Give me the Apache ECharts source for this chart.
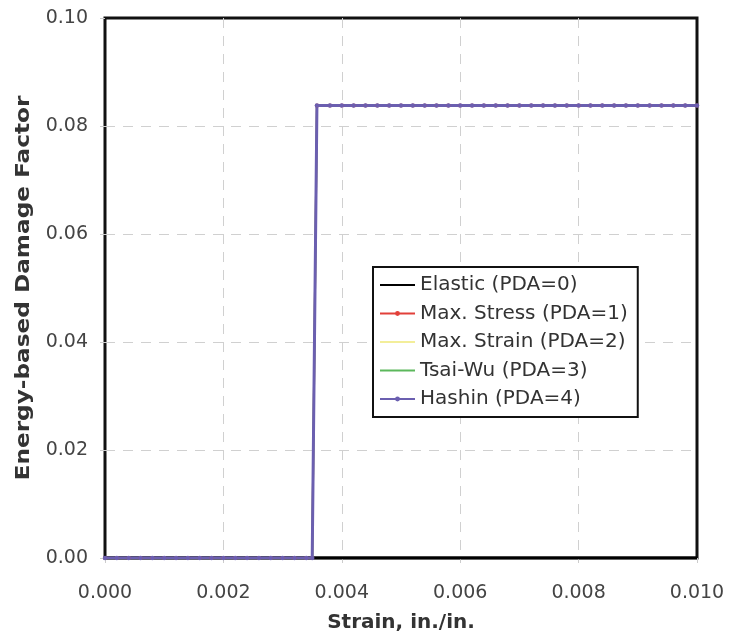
<!DOCTYPE html>
<html>
<head>
<meta charset="utf-8">
<script src="https://cdn.jsdelivr.net/npm/echarts@6/dist/echarts.min.js"></script>
<style>
  html, body { margin: 0; padding: 0; background: #fff; }
  #main { width: 730px; height: 638px; }
</style>
</head>
<body>
<div id="main"></div>
<script>
// 应变 (in./in.)
var strain = [0, 0.0002, 0.0004, 0.0006, 0.0008, 0.0010, 0.0012, 0.0014, 0.0016, 0.0018,
  0.0020, 0.0022, 0.0024, 0.0026, 0.0028, 0.0030, 0.0032, 0.0034, 0.0035, 0.00358,
  0.0038, 0.0040, 0.0042, 0.0044, 0.0046, 0.0048, 0.0050, 0.0052, 0.0054, 0.0056,
  0.0058, 0.0060, 0.0062, 0.0064, 0.0066, 0.0068, 0.0070, 0.0072, 0.0074, 0.0076,
  0.0078, 0.0080, 0.0082, 0.0084, 0.0086, 0.0088, 0.0090, 0.0092, 0.0094, 0.0096,
  0.0098, 0.0100];
// 能量损伤因子 (PDA=1..4 都一样)
var damage = [0, 0, 0, 0, 0, 0, 0, 0, 0, 0,
  0, 0, 0, 0, 0, 0, 0, 0, 0, 0.0838,
  0.0838, 0.0838, 0.0838, 0.0838, 0.0838, 0.0838, 0.0838, 0.0838, 0.0838, 0.0838,
  0.0838, 0.0838, 0.0838, 0.0838, 0.0838, 0.0838, 0.0838, 0.0838, 0.0838, 0.0838,
  0.0838, 0.0838, 0.0838, 0.0838, 0.0838, 0.0838, 0.0838, 0.0838, 0.0838, 0.0838,
  0.0838, 0.0838];
// elastic 没有损伤
var elasticStrain = [0, 0.0100];
var elasticDamage = [0, 0];

var names = ['Elastic (PDA=0)', 'Max. Stress (PDA=1)', 'Max. Strain (PDA=2)', 'Tsai-Wu (PDA=3)', 'Hashin (PDA=4)'];
var colors = ['#000000', '#e2403a', '#f3ee9a', '#5cb85c', '#6b5fb0'];
var hasMarker = [false, true, false, false, true];

function pairs(xs, ys) {
  return xs.map(function (x, i) { return [x, ys[i]]; });
}

var font = 'DejaVu Sans';
var chart = echarts.init(document.getElementById('main'));

chart.setOption({
  animation: false,
  color: colors,
  grid: {
    left: 105,
    right: 33,
    top: 18,
    bottom: 79,
    show: true,
    borderColor: '#111',
    borderWidth: 3
  },
  legend: {
    orient: 'vertical',
    left: 373,
    top: 267,
    padding: [8, 10, 8, 6],
    borderColor: '#111',
    borderWidth: 2,
    backgroundColor: '#fff',
    itemWidth: 35,
    itemHeight: 6,
    itemGap: 8.5,
    textStyle: {
      fontFamily: font,
      fontSize: 20,
      lineHeight: 20,
      color: '#333'
    },
    data: names.map(function (n, i) {
      return hasMarker[i] ? { name: n } : { name: n, itemStyle: { opacity: 0 } };
    })
  },
  graphic: [{
    type: 'text',
    x: 24,
    y: 288,
    rotation: Math.PI / 2,
    scaleX: 1.16,
    style: {
      text: 'Energy-based Damage Factor',
      font: 'bold 20px "DejaVu Sans"',
      fill: '#333',
      align: 'center',
      verticalAlign: 'middle'
    }
  }],
  xAxis: {
    type: 'value',
    min: 0,
    max: 0.01,
    interval: 0.002,
    name: 'Strain, in./in.',
    nameLocation: 'middle',
    nameGap: 55,
    nameTextStyle: { fontFamily: font, fontSize: 20, fontWeight: 'bold', color: '#333' },
    axisLine: { show: false },
    axisTick: { show: true, length: 5, lineStyle: { color: '#ccc' } },
    axisLabel: {
      margin: 26,
      fontFamily: font,
      fontSize: 19,
      color: '#444',
      formatter: function (v) { return v.toFixed(3); }
    },
    splitLine: { show: true, showMinLine: false, showMaxLine: false, lineStyle: { type: [10, 8], color: '#d0d0d0' } }
  },
  yAxis: {
    type: 'value',
    min: 0,
    max: 0.1,
    interval: 0.02,
    axisLine: { show: false },
    axisTick: { show: true, length: 5, lineStyle: { color: '#ccc' } },
    axisLabel: {
      margin: 17,
      fontFamily: font,
      fontSize: 19,
      color: '#444',
      formatter: function (v) { return v.toFixed(2); }
    },
    splitLine: { show: true, showMinLine: false, showMaxLine: false, lineStyle: { type: [10, 8], color: '#d0d0d0' } }
  },
  series: [
    {
      name: names[0],
      type: 'line',
      symbol: 'none',
      lineStyle: { width: 3 },
      data: pairs(elasticStrain, elasticDamage)
    },
    {
      name: names[1],
      type: 'line',
      symbol: 'circle',
      symbolSize: 4,
      lineStyle: { width: 2 },
      data: pairs(strain, damage)
    },
    {
      name: names[2],
      type: 'line',
      symbol: 'none',
      lineStyle: { width: 2 },
      data: pairs(strain, damage)
    },
    {
      name: names[3],
      type: 'line',
      symbol: 'none',
      lineStyle: { width: 2 },
      data: pairs(strain, damage)
    },
    {
      name: names[4],
      type: 'line',
      symbol: 'circle',
      symbolSize: 4.5,
      lineStyle: { width: 3 },
      data: pairs(strain, damage)
    }
  ]
});
</script>
</body>
</html>
